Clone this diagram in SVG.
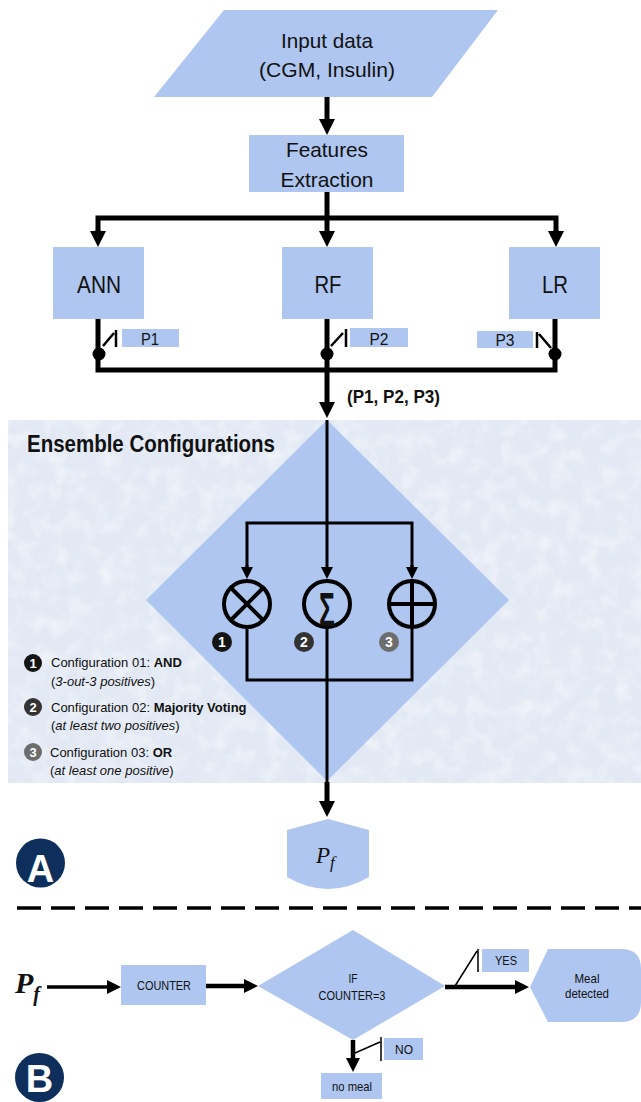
<svg xmlns="http://www.w3.org/2000/svg" width="641" height="1102" viewBox="0 0 641 1102">
<style>
.t{font-family:"Liberation Sans",Arial,sans-serif;fill:#111}
.box{fill:#aec6f0}
.ln{fill:none;stroke:#000;stroke-width:5;stroke-linejoin:miter}
.thin{fill:none;stroke:#000;stroke-width:3}
.sw{fill:none;stroke:#000;stroke-width:2.5}
.swt{fill:none;stroke:#000;stroke-width:1.5}
.badge{font-family:"Liberation Sans",Arial,sans-serif;font-weight:bold;fill:#fff;text-anchor:middle}
.m{text-anchor:middle}
.lg{font-size:13px}
.b{font-weight:bold}
.i{font-style:italic}
</style>
<defs>
<marker id="ah" markerUnits="userSpaceOnUse" markerWidth="16" markerHeight="16" refX="8" refY="8" orient="auto"><path d="M0,0 L16,8 L0,16 Z" fill="#000"/></marker>
<marker id="am" markerUnits="userSpaceOnUse" markerWidth="14" markerHeight="14" refX="7" refY="7" orient="auto"><path d="M0,0 L14,7 L0,14 Z" fill="#000"/></marker>
<marker id="as" markerUnits="userSpaceOnUse" markerWidth="12" markerHeight="12" refX="6" refY="6" orient="auto"><path d="M0,0 L12,6 L0,12 Z" fill="#000"/></marker>
<filter id="tex" x="0" y="0" width="100%" height="100%">
<feTurbulence type="fractalNoise" baseFrequency="0.06" numOctaves="3" seed="4"/>
<feColorMatrix type="matrix" values="0 0 0 0 1 0 0 0 0 1 0 0 0 0 1 0 0 0 1.0 -0.42"/>
<feComposite in2="SourceGraphic" operator="in"/>
</filter>
</defs>

<g id="ensemble-bg">
<rect x="8" y="420" width="633" height="363" fill="#e2e9f4"/>
<rect x="8" y="420" width="633" height="363" fill="#fff" filter="url(#tex)"/>
</g>

<g id="input">
<polygon class="box" points="224,10 498,10 432,97 154,97"/>
<text class="t m" x="327" y="48" font-size="21" textLength="92" lengthAdjust="spacingAndGlyphs">Input data</text>
<text class="t m" x="327" y="77" font-size="21" textLength="136" lengthAdjust="spacingAndGlyphs">(CGM, Insulin)</text>
</g>

<g id="features">
<rect class="box" x="249" y="135" width="155" height="57"/>
<text class="t m" x="327" y="157" font-size="21" textLength="82" lengthAdjust="spacingAndGlyphs">Features</text>
<text class="t m" x="327" y="187" font-size="21" textLength="93" lengthAdjust="spacingAndGlyphs">Extraction</text>
</g>

<g id="ann">
<rect class="box" x="53" y="247" width="91" height="72"/>
<text class="t m" x="99" y="293" font-size="24" textLength="44" lengthAdjust="spacingAndGlyphs">ANN</text>
</g>
<g id="rf">
<rect class="box" x="282" y="247" width="91" height="72"/>
<text class="t m" x="328" y="293" font-size="24" textLength="27" lengthAdjust="spacingAndGlyphs">RF</text>
</g>
<g id="lr">
<rect class="box" x="509" y="247" width="91" height="72"/>
<text class="t m" x="555" y="293" font-size="24" textLength="26" lengthAdjust="spacingAndGlyphs">LR</text>
</g>

<g id="p1">
<rect class="box" x="122" y="329" width="57" height="18"/>
<text class="t m" x="150" y="345" font-size="17" textLength="18" lengthAdjust="spacingAndGlyphs">P1</text>
</g>
<g id="p2">
<rect class="box" x="350" y="328" width="58" height="19"/>
<text class="t m" x="379" y="345" font-size="17" textLength="19" lengthAdjust="spacingAndGlyphs">P2</text>
</g>
<g id="p3">
<rect class="box" x="477" y="331" width="56" height="17"/>
<text class="t m" x="505" y="346" font-size="17" textLength="19" lengthAdjust="spacingAndGlyphs">P3</text>
</g>

<g id="ensemble">
<polygon class="box" points="327,420 509,600 327,781 146,600"/>
<text class="t" x="27" y="452" font-size="23" font-weight="bold" textLength="248" lengthAdjust="spacingAndGlyphs">Ensemble Configurations</text>
</g>

<g id="op-and">
<circle cx="247" cy="604" r="23" fill="none" stroke="#000" stroke-width="4"/>
<path d="M231,588 L263,620 M263,588 L231,620" stroke="#000" stroke-width="4"/>
</g>
<g id="op-sum">
<circle cx="327" cy="604" r="23" fill="none" stroke="#000" stroke-width="4"/>
<text class="t" transform="translate(327,626) scale(0.55,1)" font-size="48" font-weight="bold" text-anchor="middle">Σ</text>
</g>
<g id="op-or">
<circle cx="412" cy="604" r="23" fill="none" stroke="#000" stroke-width="4"/>
<path d="M412,581 V627 M389,604 H435" stroke="#000" stroke-width="4"/>
</g>

<g id="badges">
<circle cx="222" cy="642" r="10" fill="#141414"/><text class="badge" x="222" y="647" font-size="14">1</text>
<circle cx="304" cy="642" r="10" fill="#333"/><text class="badge" x="304" y="647" font-size="14">2</text>
<circle cx="389" cy="642" r="10" fill="#6d6d6d"/><text class="badge" x="389" y="647" font-size="14">3</text>
</g>

<g id="legend">
<circle cx="33" cy="663" r="9" fill="#141414"/><text class="badge" x="33" y="667.5" font-size="13">1</text>
<text class="t lg" x="51" y="667">Configuration 01: <tspan class="b">AND</tspan></text>
<text class="t lg" x="51" y="686">(<tspan class="i">3-out-3 positives</tspan>)</text>

<circle cx="33" cy="707" r="9" fill="#333"/><text class="badge" x="33" y="711.5" font-size="13">2</text>
<text class="t lg" x="51" y="712">Configuration 02: <tspan class="b">Majority Voting</tspan></text>
<text class="t lg" x="51" y="730">(<tspan class="i">at least two positives</tspan>)</text>

<circle cx="33" cy="752" r="9" fill="#6d6d6d"/><text class="badge" x="33" y="756.5" font-size="13">3</text>
<text class="t lg" x="50" y="757">Configuration 03: <tspan class="b">OR</tspan></text>
<text class="t lg" x="50" y="775">(<tspan class="i">at least one positive</tspan>)</text>
</g>

<g id="pf">
<path class="box" d="M287,830 L328,819 L369,830 L369,877 Q328,901 287,877 Z"/>
<text x="316" y="863" font-family="'Liberation Serif','DejaVu Serif',serif" font-style="italic" font-size="23" fill="#111">P<tspan font-size="17" dy="5">f</tspan></text>
</g>

<g id="label-a">
<circle cx="40.5" cy="863" r="24.5" fill="#0e2f5c"/>
<text class="badge" x="40.5" y="882" font-size="38">A</text>
</g>

<line x1="17" y1="908" x2="641" y2="908" stroke="#000" stroke-width="3.5" stroke-dasharray="24 10"/>

<g id="pf-in">
<text x="15" y="993" font-family="'Liberation Serif','DejaVu Serif',serif" font-style="italic" font-weight="bold" font-size="30" fill="#111">P<tspan font-size="20" dy="8">f</tspan></text>
</g>
<g id="counter">
<rect class="box" x="121" y="965" width="85" height="40"/>
<text class="t m" x="164" y="990" font-size="13" textLength="54" lengthAdjust="spacingAndGlyphs">COUNTER</text>
</g>
<g id="if">
<polygon class="box" points="258,986 353,930 445,986 353,1040"/>
<text class="t m" x="353" y="983" font-size="13" textLength="9" lengthAdjust="spacingAndGlyphs">IF</text>
<text class="t m" x="352" y="1000" font-size="13" textLength="67" lengthAdjust="spacingAndGlyphs">COUNTER=3</text>
</g>
<g id="yes">
<rect class="box" x="482" y="949" width="47" height="23"/>
<text class="t m" x="506" y="965" font-size="13" textLength="22" lengthAdjust="spacingAndGlyphs">YES</text>
</g>
<g id="meal">
<path class="box" d="M530,987 L548,949 L621,949 Q641,949 641,969 L641,1002 Q641,1022 621,1022 L548,1022 Z"/>
<text class="t m" x="587" y="983" font-size="13" textLength="25" lengthAdjust="spacingAndGlyphs">Meal</text>
<text class="t m" x="587" y="998" font-size="13" textLength="44" lengthAdjust="spacingAndGlyphs">detected</text>
</g>
<g id="no">
<rect class="box" x="384" y="1038" width="39" height="22"/>
<text class="t m" x="404" y="1054" font-size="13" textLength="18" lengthAdjust="spacingAndGlyphs">NO</text>
</g>
<g id="nomeal">
<rect class="box" x="321" y="1073" width="61" height="26"/>
<text class="t m" x="352" y="1091" font-size="13" textLength="40" lengthAdjust="spacingAndGlyphs">no meal</text>
</g>
<g id="label-b">
<circle cx="39.5" cy="1077.5" r="24.5" fill="#0e2f5c"/>
<text class="badge" x="39.5" y="1092" font-size="38">B</text>
</g>

<g id="connectors">
<path class="ln" d="M327,97 V127" marker-end="url(#ah)"/>
<path class="ln" d="M327,192 V239" marker-end="url(#ah)"/>
<path class="ln" d="M98,239 V218 H556 V239"/>
<path class="ln" d="M98,230 V239" marker-end="url(#ah)"/>
<path class="ln" d="M556,230 V239" marker-end="url(#ah)"/>
<path class="ln" d="M98,319 V370 H555 V319"/>
<path class="ln" d="M327,319 V410" marker-end="url(#ah)"/>
<circle cx="99" cy="354" r="6.5" fill="#000"/>
<circle cx="327" cy="354" r="6.5" fill="#000"/>
<circle cx="555" cy="354" r="6.5" fill="#000"/>
<path class="sw" d="M103,346 L114,333 M116,330 V347"/>
<path class="sw" d="M331,346 L343,333 M346,329 V347"/>
<path class="sw" d="M537,332 V348 M539,334 L551,348"/>
<text class="t" x="347" y="403" font-size="18" font-weight="bold" textLength="93" lengthAdjust="spacingAndGlyphs">(P1, P2, P3)</text>
<path class="thin" d="M327,420 V573" marker-end="url(#as)"/>
<path class="thin" d="M247,573 V523 H412 V573"/>
<path class="thin" d="M247,565 V573" marker-end="url(#as)"/>
<path class="thin" d="M412,565 V573" marker-end="url(#as)"/>
<path class="thin" d="M247,627 V680 H412 V627"/>
<path class="thin" d="M327,627 V785"/>
<path class="ln" d="M327,782 V809" marker-end="url(#ah)"/>
<path fill="none" stroke="#000" stroke-width="3.5" d="M47,987 H114" marker-end="url(#am)"/>
<path fill="none" stroke="#000" stroke-width="4.5" d="M206,986 H251" marker-end="url(#am)"/>
<path fill="none" stroke="#000" stroke-width="4.5" d="M445,987 H522" marker-end="url(#am)"/>
<path class="swt" d="M455,986 L477,951 M478,949 V972"/>
<path fill="none" stroke="#000" stroke-width="4.5" d="M353,1040 V1065" marker-end="url(#am)"/>
<path class="swt" d="M355,1053 L380,1042 M381,1037 V1061"/>
</g>
</svg>
